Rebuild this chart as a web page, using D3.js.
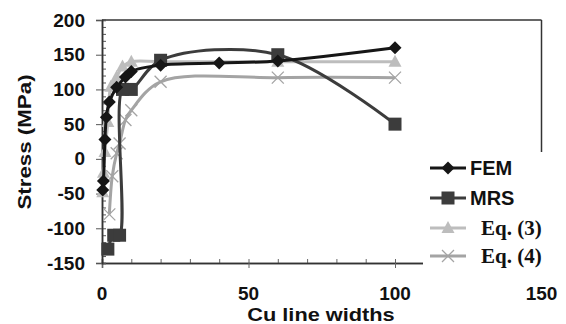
<!DOCTYPE html>
<html>
<head>
<meta charset="utf-8">
<script src="https://cdn.jsdelivr.net/npm/d3@7"></script>
<style>
  body { margin: 0; background: #fff; }
  svg { display: block; }
  text { font-family: "Liberation Sans", Arial, sans-serif; font-weight: bold; fill: #111; }
</style>
</head>
<body>
<div id="chart"></div>
<script>
// values: [Cu line width, stress MPa]
const femData = [[0.25, -45], [0.5, -32], [1, 28], [1.5, 60], [2.5, 82], [5, 103], [8, 118], [10, 126], [20, 135], [40, 138], [60, 141], [100, 160]];
const mrsData = [[2, -130], [4, -110], [6, -110], [7, 100], [10, 100], [20, 142], [60, 150], [100, 50]];
const eq3Data = [[0.25, -48], [0.5, -20], [1, 10], [2, 53], [3, 104], [5, 118], [7, 133], [10, 140], [20, 140], [60, 140], [100, 140]];
const eq4Data = [[2.5, -80], [3.5, -25], [5, 8], [6, 22], [8, 56], [10, 70], [20, 111], [60, 117], [100, 117]];

const seriesNames = ["FEM", "MRS", "Eq. (3)", "Eq. (4)"];
const xTicks = [0, 50, 100, 150];
const yTicks = [-150, -100, -50, 0, 50, 100, 150, 200];

const width = 566;
const height = 324;
const margin = { top: 20, left: 102, bottom: 61, right: 24.5 };

const series = [
  { name: seriesNames[0], data: femData, color: "#161616", marker: "diamond", serif: false },
  { name: seriesNames[1], data: mrsData, color: "#3c3c3c", marker: "square", serif: false },
  { name: seriesNames[2], data: eq3Data, color: "#bdbdbd", marker: "triangle", serif: true },
  { name: seriesNames[3], data: eq4Data, color: "#a4a4a4", marker: "cross", serif: true }
];

const svg = d3.select("#chart").append("svg")
  .attr("width", width)
  .attr("height", height);

const x = d3.scaleLinear().domain([0, 150]).range([margin.left, width - margin.right]);
const y = d3.scaleLinear().domain([-150, 200]).range([height - margin.bottom, margin.top]);

const axisColor = "#333";

// frame: top and right
svg.append("line").attr("x1", x(0)).attr("x2", x(150)).attr("y1", y(200)).attr("y2", y(200))
  .attr("stroke", axisColor).attr("stroke-width", 1.5);
svg.append("line").attr("x1", x(150)).attr("x2", x(150)).attr("y1", y(200)).attr("y2", y(-150))
  .attr("stroke", axisColor).attr("stroke-width", 1.5);

// x axis with minor ticks inside
const xAxis = svg.append("g").attr("transform", `translate(0,${y(-150)})`);
xAxis.call(d3.axisBottom(x).tickValues(d3.range(0, 151, 10)).tickSize(-4).tickFormat(""));
xAxis.call(g => g.append("g").call(d3.axisBottom(x).tickValues(xTicks).tickSize(5).tickFormat("")));
xAxis.selectAll("path").attr("stroke", axisColor).attr("stroke-width", 1.5);
xAxis.selectAll("line").attr("stroke", "#666").attr("stroke-width", 1);

// y axis with minor ticks inside
const yAxis = svg.append("g").attr("transform", `translate(${x(0)},0)`);
yAxis.call(d3.axisRight(y).tickValues(d3.range(-150, 201, 10)).tickSize(4).tickFormat(""));
yAxis.call(g => g.append("g").call(d3.axisLeft(y).tickValues(yTicks).tickSize(6).tickFormat("")));
yAxis.selectAll("path").attr("stroke", axisColor).attr("stroke-width", 1.5);
yAxis.selectAll("line").attr("stroke", "#555").attr("stroke-width", 1);

// tick labels
svg.append("g").selectAll("text").data(yTicks).join("text")
  .attr("x", 85).attr("y", d => y(d))
  .attr("text-anchor", "end").attr("dominant-baseline", "central")
  .style("font-size", "19px").text(d => d);

svg.append("g").selectAll("text").data(xTicks).join("text")
  .attr("x", d => x(d)).attr("y", 300)
  .attr("text-anchor", "middle")
  .style("font-size", "19px").text(d => d);

// axis titles (a bit wide in the original)
svg.append("text")
  .attr("transform", "translate(321,321) scale(1.17,1)")
  .attr("text-anchor", "middle")
  .style("font-size", "18.6px").text("Cu line widths");

svg.append("text")
  .attr("transform", "translate(31,142) rotate(-90) scale(1.2,1)")
  .attr("text-anchor", "middle")
  .style("font-size", "18.6px").text("Stress (MPa)");

// markers
function drawMarker(g, type, color, cx, cy) {
  if (type === "diamond") {
    g.append("path").attr("d", `M${cx},${cy - 6.5}L${cx + 6.5},${cy}L${cx},${cy + 6.5}L${cx - 6.5},${cy}Z`).attr("fill", color);
  } else if (type === "square") {
    g.append("rect").attr("x", cx - 6.5).attr("y", cy - 6.5).attr("width", 13).attr("height", 13).attr("fill", color);
  } else if (type === "triangle") {
    g.append("path").attr("d", `M${cx},${cy - 7}L${cx + 6.5},${cy + 5}L${cx - 6.5},${cy + 5}Z`).attr("fill", color);
  } else {
    g.append("path").attr("d", `M${cx - 6},${cy - 6}L${cx + 6},${cy + 6}M${cx - 6},${cy + 6}L${cx + 6},${cy - 6}`)
      .attr("stroke", color).attr("stroke-width", 1.3).attr("fill", "none");
  }
}

const line = d3.line()
  .x(d => x(d[0]))
  .y(d => y(d[1]))
  .curve(d3.curveCatmullRom.alpha(0.5));

// draw back to front: Eq.(4), Eq.(3), MRS, FEM
const order = [3, 2, 1, 0];
order.forEach(i => {
  const s = series[i];
  const g = svg.append("g");
  g.append("path").datum(s.data)
    .attr("d", line)
    .attr("fill", "none")
    .attr("stroke", s.color)
    .attr("stroke-width", 3);
  s.data.forEach(d => drawMarker(g, s.marker, s.color, x(d[0]), y(d[1])));
});

// legend
const legend = svg.append("g");
legend.append("rect").attr("x", 423).attr("y", 152).attr("width", 143).attr("height", 120).attr("fill", "#fff");
const legendY = [168, 198, 228, 256];
series.forEach((s, i) => {
  const ly = legendY[i];
  legend.append("line").attr("x1", 430).attr("x2", 466).attr("y1", ly).attr("y2", ly)
    .attr("stroke", s.color).attr("stroke-width", 3);
  drawMarker(legend, s.marker, s.color, 448, ly);
  legend.append("text")
    .attr("x", s.serif ? 481 : 470).attr("y", ly)
    .attr("dominant-baseline", "central")
    .style("font-family", s.serif ? "'Liberation Serif', 'Times New Roman', serif" : null)
    .style("font-size", s.serif ? "21px" : "20px")
    .text(s.name);
});
</script>
</body>
</html>
